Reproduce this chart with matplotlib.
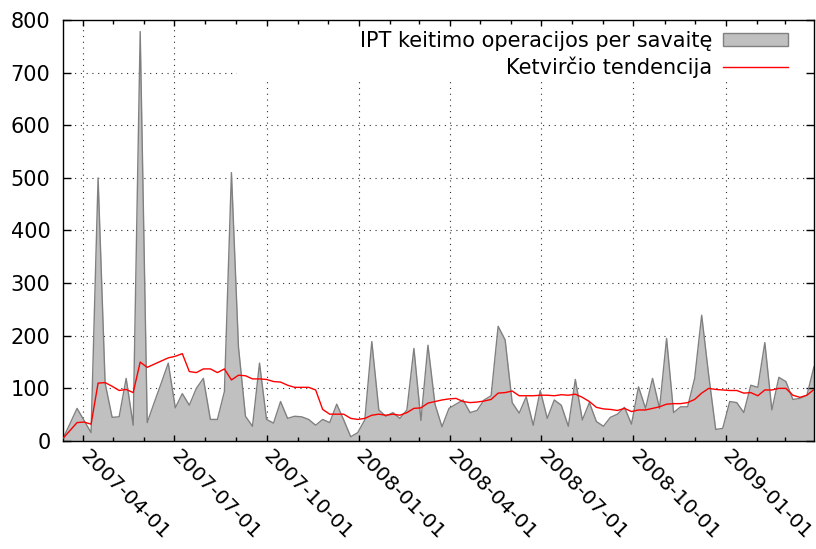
import matplotlib
matplotlib.use("Agg")
import matplotlib.pyplot as plt
import matplotlib.dates as mdates
from matplotlib.patches import Rectangle, Patch
from matplotlib.lines import Line2D
import numpy as np
import pandas as pd

# weekly data, Mondays from 2007-03-12
weeks = pd.date_range("2007-03-12", periods=108, freq="7D")

weekly_ops = [5, 33, 62, 39, 16, 500, 110, 45, 46, 119,
              30, 778, 35, 73, 110, 148, 63, 90, 68, 100,
              119, 41, 41, 94, 510, 179, 47, 28, 148, 41,
              34, 75, 43, 47, 46, 41, 30, 41, 35, 70,
              40, 8, 16, 40, 189, 59, 47, 54, 43, 59,
              176, 39, 182, 70, 27, 62, 70, 78, 54, 58,
              78, 86, 218, 192, 73, 53, 84, 30, 96, 43,
              78, 68, 28, 117, 40, 73, 37, 28, 45, 51,
              64, 32, 103, 62, 119, 62, 195, 54, 65, 65,
              119, 239, 125, 22, 24, 75, 73, 54, 106, 102,
              187, 59, 121, 113, 79, 81, 87, 141]

quarter_trend = [5, 20, 35, 36, 32, 110, 111, 104, 96, 98,
                 92, 150, 140, 146, 152, 158, 161, 166, 132, 130,
                 137, 137, 130, 137, 116, 125, 124, 118, 118, 117,
                 113, 112, 106, 102, 102, 102, 97, 60, 51, 51,
                 51, 43, 41, 43, 49, 51, 49, 51, 49, 54,
                 62, 63, 72, 75, 78, 80, 81, 75, 73, 74,
                 76, 79, 91, 92, 95, 86, 86, 86, 87, 87,
                 86, 88, 87, 89, 83, 75, 64, 61, 60, 58,
                 62, 56, 59, 59, 62, 65, 70, 71, 71, 73,
                 79, 91, 100, 98, 97, 96, 96, 91, 92, 86,
                 97, 97, 100, 100, 87, 83, 87, 98]

quarter_ticks = pd.to_datetime(["2007-04-01", "2007-07-01", "2007-10-01", "2008-01-01",
                                "2008-04-01", "2008-07-01", "2008-10-01", "2009-01-01"])
y_ticks = list(range(0, 801, 100))

label_ops = "IPT keitimo operacijos per savaitę"
label_trend = "Ketvirčio tendencija"

fig = plt.figure(figsize=(8.16, 5.49), dpi=100)
ax = fig.add_axes([0.0772, 0.1967, 0.9203, 0.7669])

ax.fill_between(weeks, weekly_ops, color="#c0c0c0", lw=0, zorder=1)
ax.plot(weeks, weekly_ops, color="#808080", lw=1, zorder=2)
ax.plot(weeks, quarter_trend, color="red", lw=1, zorder=3)

ax.set_xlim(weeks[0], weeks[-1])
ax.set_ylim(0, 800)

# dotted grid like gnuplot, hidden behind the key box
grid_style = dict(color="#303030", lw=0.8, linestyle=(0, (1, 4.2)), zorder=0.3)
ax.hlines(y_ticks[1:-1], weeks[0], weeks[-1], **grid_style)
ax.vlines(quarter_ticks, 0, 800, **grid_style)
ax.add_patch(Rectangle((0.2317, 0.857), 0.7683, 0.143, transform=ax.transAxes,
                       facecolor="white", edgecolor="none", zorder=0.4))

ax.set_xticks(quarter_ticks)
ax.set_xticklabels([d.strftime("%Y-%m-%d") for d in quarter_ticks],
                   rotation=-45, ha="left", va="center", rotation_mode="anchor")
ax.xaxis.set_minor_locator(mdates.MonthLocator())
ax.set_yticks(y_ticks)

ax.tick_params(which="both", direction="in", top=True, right=True, labelsize=15, width=1)
ax.tick_params(axis="x", labelsize=14.5)
ax.tick_params(axis="y", which="major", length=6)
ax.tick_params(axis="x", which="major", length=4)
ax.tick_params(which="minor", length=3)
ax.tick_params(axis="y", pad=9)
ax.tick_params(axis="x", pad=9)
for s in ax.spines.values():
    s.set_linewidth(1)

handles = [Patch(facecolor="#c0c0c0", edgecolor="#808080", lw=1),
           Line2D([], [], color="red", lw=1)]
ax.legend(handles, [label_ops, label_trend], loc="upper right",
          bbox_to_anchor=(0.9654, 0.974), borderpad=0, borderaxespad=0,
          frameon=False, markerfirst=False, fontsize=15, handlelength=3.1,
          handleheight=0.6, handletextpad=0.55, labelspacing=0.25)

fig.savefig("out.png", dpi=100)
